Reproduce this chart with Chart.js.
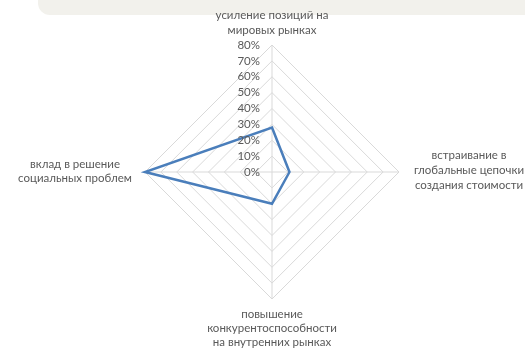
<!DOCTYPE html>
<html>
<head>
<meta charset="utf-8">
<script src="https://cdn.jsdelivr.net/npm/chart.js@4"></script>
<style>
  html, body { margin: 0; padding: 0; background: #fff; }
  #wrap { position: relative; width: 525px; height: 350px; overflow: hidden; }
  #banner { position: absolute; left: 38px; top: -20px; width: 520px; height: 35px;
            background: #f2f1ec; border-radius: 12px; }
  canvas { position: absolute; left: 0; top: 0; }
</style>
</head>
<body>
<div id="wrap">
  <div id="banner"></div>
  <canvas id="chart" width="525" height="350"></canvas>
</div>
<script>
// axis names, clockwise from top
const categories = [
  ["усиление позиций на", "мировых рынках"],
  ["встраивание в", "глобальные цепочки", "создания стоимости"],
  ["повышение", "конкурентоспособности", "на внутренних рынках"],
  ["вклад в решение", "социальных проблем"],
];
const values = [28, 11, 20, 80];
const tickValues = [0, 10, 20, 30, 40, 50, 60, 70, 80];

const TEXT = "#595959";
const FONT = "11.5px Lato, 'Open Sans', sans-serif";

// label placement: offset from the axis end + alignment
const labelPlace = [
  { dx: 0,   dy: -30, align: "center", lh: 15 },
  { dx: 70,  dy: -17, align: "center", lh: 15 },
  { dx: 0,   dy: 15,  align: "center", lh: 14 },
  { dx: -70, dy: -8,  align: "center", lh: 14 },
];

const labelsPlugin = {
  id: "customLabels",
  afterDraw(chart) {
    const r = chart.scales.r;
    const ctx = chart.ctx;
    ctx.save();
    ctx.font = FONT;
    ctx.fillStyle = TEXT;
    ctx.textBaseline = "middle";
    // tick labels left of the top axis
    ctx.textAlign = "right";
    for (const v of tickValues) {
      const p = r.getPointPositionForValue(0, v);
      ctx.fillText(v + "%", p.x - 12, p.y);
    }
    // category labels
    categories.forEach((lines, i) => {
      const end = r.getPointPositionForValue(i, r.max);
      const pl = labelPlace[i];
      ctx.textAlign = pl.align;
      lines.forEach((ln, k) => {
        ctx.fillText(ln, end.x + pl.dx, end.y + pl.dy + k * pl.lh);
      });
    });
    ctx.restore();
  }
};

new Chart(document.getElementById("chart"), {
  type: "radar",
  data: {
    labels: categories.map(c => c.join(" ")),
    datasets: [{
      data: values,
      borderColor: "#4a7ebb",
      borderWidth: 2.5,
      backgroundColor: "transparent",
      fill: false,
      pointRadius: 0,
      pointHoverRadius: 0,
      tension: 0,
    }],
  },
  options: {
    responsive: false,
    animation: false,
    layout: { padding: { left: 145, right: 125, top: 45, bottom: 51 } },
    plugins: { legend: { display: false }, tooltip: { enabled: false } },
    scales: {
      r: {
        min: 0,
        max: 80,
        ticks: { display: false, stepSize: 10 },
        pointLabels: { display: false },
        grid: { color: "#d9d9d9", lineWidth: 1 },
        angleLines: { color: "#d9d9d9", lineWidth: 1 },
      },
    },
  },
  plugins: [labelsPlugin],
});
</script>
</body>
</html>
